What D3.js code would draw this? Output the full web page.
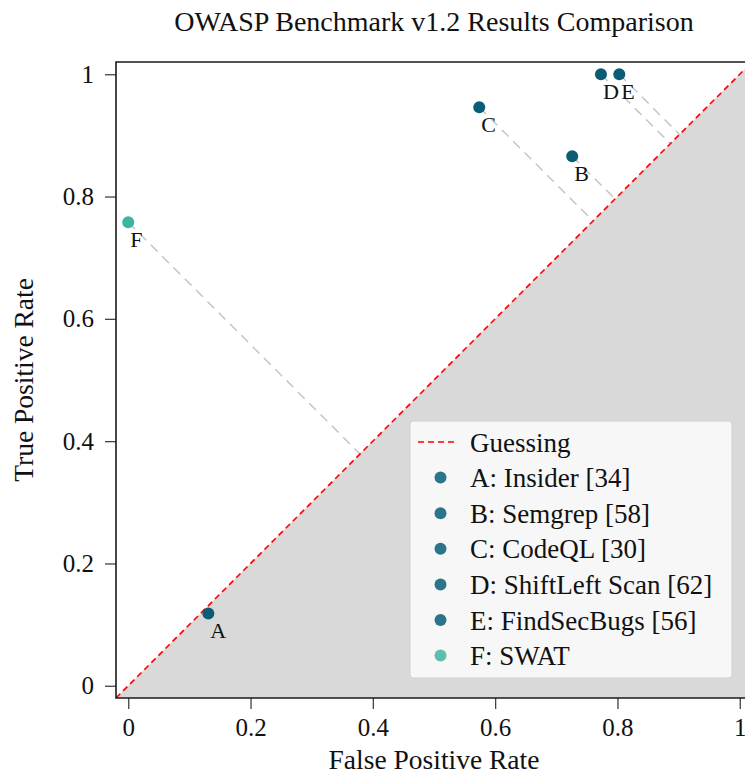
<!DOCTYPE html>
<html>
<head>
<meta charset="utf-8">
<script src="https://cdn.jsdelivr.net/npm/d3@7"></script>
<style>
  html, body { margin: 0; padding: 0; background: #fff; }
  svg { display: block; }
  text { font-family: "Liberation Serif", "Times New Roman", serif; fill: #111; }
</style>
</head>
<body>
<svg id="chart" width="745" height="774"></svg>
<script>
// ---- data ----
const toolIds    = ["A", "B", "C", "D", "E", "F"];
const toolNames  = ["Insider", "Semgrep", "CodeQL", "ShiftLeft Scan", "FindSecBugs", "SWAT"];
const toolRefs   = ["[34]", "[58]", "[30]", "[62]", "[56]", ""];
const fprValues  = [0.131, 0.726, 0.574, 0.773, 0.803, 0.0];
const tprValues  = [0.118, 0.866, 0.946, 1.0, 1.0, 0.758];
const pointColors  = ["#0b5d76", "#0b5d76", "#0b5d76", "#0b5d76", "#0b5d76", "#3cb49f"];
const legendColors = ["#2b7489", "#2b7489", "#2b7489", "#2b7489", "#2b7489", "#5cbfad"];
const tickValues = [0, 0.2, 0.4, 0.6, 0.8, 1];
const axisDomain = [-0.02, 1.02];

const titleText = "OWASP Benchmark v1.2 Results Comparison";
const xLabel = "False Positive Rate";
const yLabel = "True Positive Rate";
const guessLabel = "Guessing";

// ---- layout ----
const svg = d3.select("#chart");
const L = 116, T = 62, W = 636, H = 636;
const x = d3.scaleLinear().domain(axisDomain).range([L, L + W]);
const y = d3.scaleLinear().domain(axisDomain).range([T + H, T]);
const fmt = d => d === 0 ? "0" : d === 1 ? "1" : String(d);

svg.append("defs").append("clipPath").attr("id", "clip")
  .append("rect").attr("x", L).attr("y", T).attr("width", W).attr("height", H);

const plot = svg.append("g").attr("clip-path", "url(#clip)");

// shaded region under diagonal
const lo = axisDomain[0], hi = axisDomain[1];
const shade = [[lo, lo], [hi, hi], [hi, lo]];
plot.append("path")
  .attr("d", d3.line().x(d => x(d[0])).y(d => y(d[1]))(shade) + "Z")
  .attr("fill", "#d9d9d9");

// projection lines to diagonal
const pts = toolIds.map((id, i) => ({ id, fpr: fprValues[i], tpr: tprValues[i], color: pointColors[i] }));
plot.selectAll("line.proj").data(pts).enter().append("line")
  .attr("class", "proj")
  .attr("x1", d => x(d.fpr)).attr("y1", d => y(d.tpr))
  .attr("x2", d => x((d.fpr + d.tpr) / 2)).attr("y2", d => y((d.fpr + d.tpr) / 2))
  .attr("stroke", "#c2c2c2").attr("stroke-width", 1.4)
  .attr("stroke-dasharray", "9.5,6.5");

// guessing diagonal
plot.append("line")
  .attr("x1", x(lo)).attr("y1", y(lo)).attr("x2", x(hi)).attr("y2", y(hi))
  .attr("stroke", "#ff0000").attr("stroke-width", 1.6)
  .attr("stroke-dasharray", "6,4");

// points
plot.selectAll("circle.pt").data(pts).enter().append("circle")
  .attr("cx", d => x(d.fpr)).attr("cy", d => y(d.tpr)).attr("r", 6)
  .attr("fill", d => d.color);

// point labels
svg.selectAll("text.lbl").data(pts).enter().append("text")
  .attr("x", d => x(d.fpr) + 2).attr("y", d => y(d.tpr) + 24.5)
  .attr("font-size", 22).text(d => d.id);

// ---- axes ----
const xAxis = svg.append("g").attr("transform", `translate(0,${T + H})`)
  .call(d3.axisBottom(x).tickValues(tickValues).tickFormat(fmt).tickSize(11).tickPadding(9));
const yAxis = svg.append("g").attr("transform", `translate(${L},0)`)
  .call(d3.axisLeft(y).tickValues(tickValues).tickFormat(fmt).tickSize(11).tickPadding(11));
[xAxis, yAxis].forEach(a => {
  a.select(".domain").remove();
  a.selectAll(".tick line").attr("stroke", "#444").attr("stroke-width", 1.3);
  a.selectAll(".tick text").attr("font-size", 25).attr("font-family", "Liberation Serif").attr("fill", "#111");
});

// spines: left, bottom, top
svg.append("path")
  .attr("d", `M${L + W + 5},${T}H${L}V${T + H}H${L + W + 5}`)
  .attr("fill", "none").attr("stroke", "#1a1a1a").attr("stroke-width", 1.6);

// ---- titles ----
svg.append("text").attr("x", L + W / 2).attr("y", 31).attr("text-anchor", "middle")
  .attr("font-size", 28).text(titleText);
svg.append("text").attr("x", L + W / 2).attr("y", 769).attr("text-anchor", "middle")
  .attr("font-size", 27.5).text(xLabel);
svg.append("text").attr("transform", `translate(33,${T + H / 2}) rotate(-90)`)
  .attr("text-anchor", "middle").attr("font-size", 27.5).text(yLabel);

// ---- legend ----
const lg = svg.append("g");
lg.append("rect").attr("x", 410).attr("y", 421).attr("width", 322).attr("height", 257)
  .attr("rx", 3).attr("fill", "#f7f7f7").attr("stroke", "#cfcfcf").attr("stroke-width", 1);
const rowY = i => 442 + i * 35.6;
lg.append("line").attr("x1", 418).attr("x2", 458).attr("y1", rowY(0)).attr("y2", rowY(0))
  .attr("stroke", "#ff0000").attr("stroke-width", 1.6).attr("stroke-dasharray", "6,4");
lg.append("text").attr("x", 470).attr("y", rowY(0) + 9.5).attr("font-size", 27).text(guessLabel);
toolIds.forEach((id, i) => {
  lg.append("circle").attr("cx", 440.5).attr("cy", rowY(i + 1)).attr("r", 6).attr("fill", legendColors[i]);
  const label = `${id}: ${toolNames[i]}` + (toolRefs[i] ? " " + toolRefs[i] : "");
  lg.append("text").attr("x", 470).attr("y", rowY(i + 1) + 9.5).attr("font-size", 27).text(label);
});
</script>
</body>
</html>
